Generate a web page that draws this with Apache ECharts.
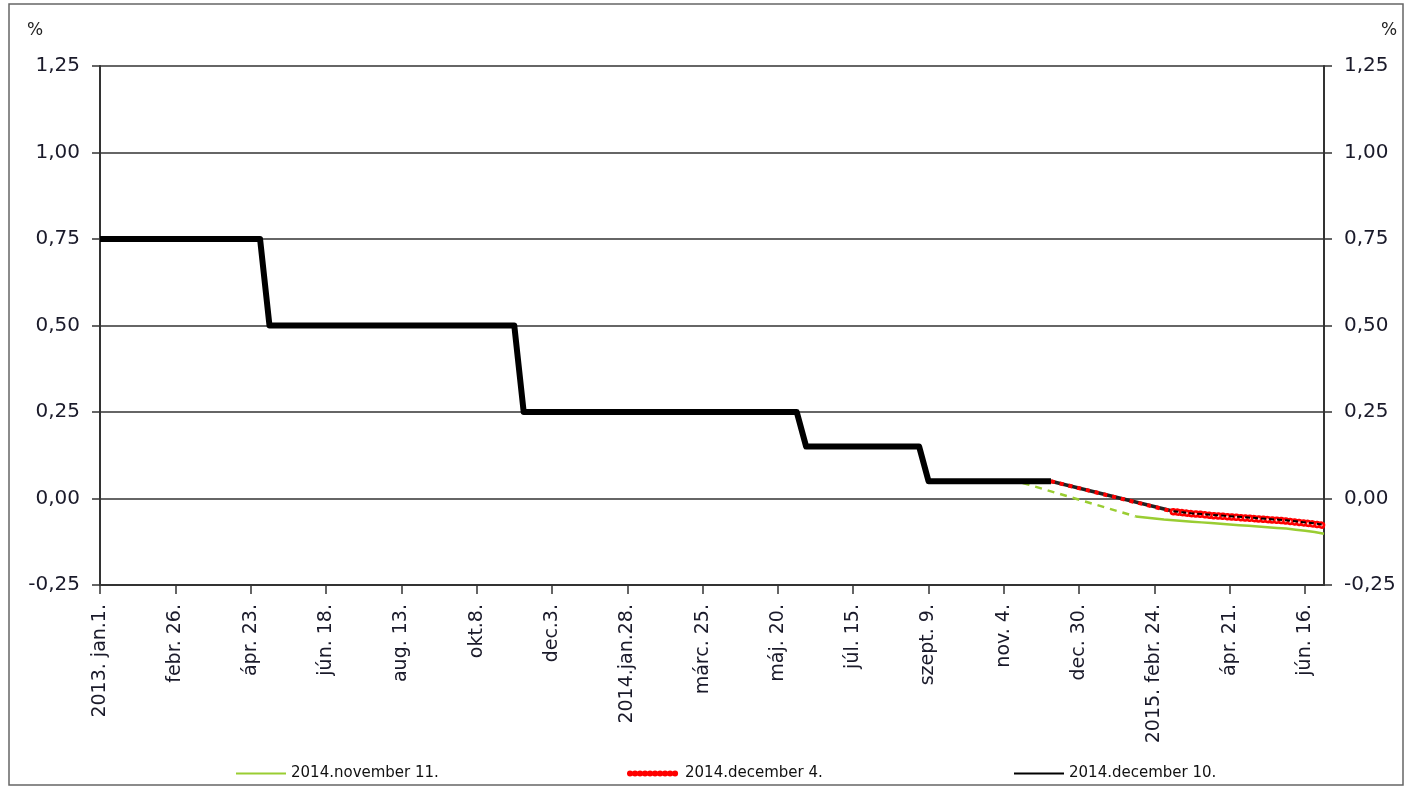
<!DOCTYPE html>
<html><head><meta charset="utf-8">
<script src="https://cdn.jsdelivr.net/npm/echarts@6/dist/echarts.min.js"></script>
<style>html,body{margin:0;padding:0;background:#fff}#c{width:1408px;height:787px}</style>
</head><body><div id="c"></div>
<script>
// ---- data ----
const tickLabels = ["2013. jan.1.", "febr. 26.", "ápr. 23.", "jún. 18.", "aug. 13.", "okt.8.", "dec.3.",
  "2014.jan.28.", "márc. 25.", "máj. 20.", "júl. 15.", "szept. 9.", "nov. 4.", "dec. 30.",
  "2015. febr. 24.", "ápr. 21.", "jún. 16."];
const firstWeek = "2013-01-01";
const weekCount = 131;               // weekly categories, 2013-01-01 .. 2015-06-30
const tickEvery = 8;                 // a tick label every 8 weeks

// realised policy rate (%): level and number of weeks it was held
const historyLevels = [0.75, 0.50, 0.25, 0.15, 0.05];
const historyWeeks  = [18, 27, 30, 13, 14];

// 2014.november 11. expectation
const nov11BridgeWeeks  = [98, 110];
const nov11BridgeValues = [0.045, -0.052];
const nov11CurveStart = 110;
const nov11Curve = [-0.052, -0.055, -0.058, -0.061, -0.063, -0.065, -0.067, -0.069, -0.071, -0.073,
  -0.075, -0.077, -0.079, -0.081, -0.083, -0.085, -0.087, -0.090, -0.093, -0.097, -0.102];

// 2014.december 4. expectation
const dec4BridgeWeeks  = [101, 114];
const dec4BridgeValues = [0.05, -0.038];
const dec4CurveStart = 114;
const dec4Curve = [-0.038, -0.041, -0.044, -0.046, -0.049, -0.051, -0.053, -0.055, -0.057, -0.059,
  -0.061, -0.063, -0.065, -0.068, -0.071, -0.074, -0.078];

// 2014.december 10. expectation
const dec10BridgeWeeks  = [101, 114];
const dec10BridgeValues = [0.05, -0.037];
const dec10CurveStart = 114;
const dec10Curve = [-0.037, -0.040, -0.043, -0.045, -0.047, -0.049, -0.051, -0.053, -0.055, -0.057,
  -0.059, -0.061, -0.063, -0.066, -0.069, -0.072, -0.076];

const names = ["2014.november 11.", "2014.december 4.", "2014.december 10."];

// ---- build arrays for the library ----
const weeks = [];
{
  const d0 = new Date(firstWeek + "T00:00:00Z");
  for (let i = 0; i < weekCount; i++) {
    const d = new Date(d0.getTime() + i * 7 * 86400000);
    weeks.push(d.toISOString().slice(0, 10));
  }
}
function emptyRow() { return new Array(weekCount).fill(null); }
function fromRuns(levels, counts) {
  const r = emptyRow(); let k = 0;
  levels.forEach((v, j) => { for (let c = 0; c < counts[j]; c++) r[k++] = v; });
  return r;
}
function fromPoints(idx, vals) { const r = emptyRow(); idx.forEach((w, j) => r[w] = vals[j]); return r; }
function fromStart(start, vals) { const r = emptyRow(); vals.forEach((v, j) => r[start + j] = v); return r; }

const FONT = "DejaVu Sans";
const GREEN = "#9acd32", RED = "#ff0000", BLACK = "#000000";
const dotDash = [0.01, 4.5];
const fmt = v => v.toFixed(2).replace(".", ",").replace("-0,00", "0,00");

function yAxisCfg(pos) {
  return {
    type: "value", position: pos, min: -0.25, max: 1.25, interval: 0.25,
    axisLine: { show: true, lineStyle: { color: "#333", width: 2 } },
    axisTick: { show: true, inside: false, length: 8, lineStyle: { color: "#333", width: 1.5 } },
    axisLabel: { formatter: fmt, margin: 20, fontFamily: FONT, fontSize: 20, color: "#1a1a2a" },
    splitLine: { show: pos === "left", lineStyle: { color: "#333", width: 1.5 } }
  };
}

function legendAt(left, name, lineStyle) {
  return {
    left: left, top: 761, itemWidth: 50, itemHeight: 14, selectedMode: false,
    textStyle: { fontFamily: FONT, fontSize: 15, color: "#111" },
    data: [{ name: name, lineStyle: lineStyle, itemStyle: { opacity: 0 } }]
  };
}

const option = {
  animation: false,
  backgroundColor: "#fff",
  grid: { left: 100, right: 84, top: 66, bottom: 202, containLabel: false, outerBoundsMode: "none" },
  legend: [
    legendAt(230, names[0], { color: GREEN, width: 2, type: "solid" }),
    legendAt(622, names[1], { color: RED, width: 6, type: [0.01, 5], cap: "round" }),
    legendAt(1008, names[2], { color: BLACK, width: 2, type: "solid" })
  ],
  xAxis: {
    type: "category", data: weeks, boundaryGap: false,
    axisLine: { onZero: false, lineStyle: { color: "#333", width: 2 } },
    axisTick: { interval: tickEvery - 1, length: 9, lineStyle: { color: "#333", width: 1.5 } },
    axisLabel: {
      interval: tickEvery - 1, rotate: 90, margin: 19,
      formatter: (v, i) => (i % tickEvery === 0 ? (tickLabels[i / tickEvery] || "") : ""),
      fontFamily: FONT, fontSize: 19, color: "#1a1a2a"
    },
    splitLine: { show: false }
  },
  yAxis: [yAxisCfg("left"), yAxisCfg("right")],
  graphic: [
    { type: "rect", shape: { x: 9, y: 4, width: 1394, height: 781 }, style: { fill: "none", stroke: "#666", lineWidth: 1.5 }, silent: true },
    { type: "text", left: 27, top: 22, style: { text: "%", fontFamily: FONT, fontSize: 17, fill: "#222" } },
    { type: "text", left: 1381, top: 22, style: { text: "%", fontFamily: FONT, fontSize: 17, fill: "#222" } }
  ],
  series: [
    { name: names[0], type: "line", data: fromPoints(nov11BridgeWeeks, nov11BridgeValues), connectNulls: true,
      symbol: "none", lineStyle: { color: GREEN, width: 2.5, type: [7, 6] }, itemStyle: { color: GREEN } },
    { name: names[0], type: "line", data: fromStart(nov11CurveStart, nov11Curve),
      symbol: "none", lineStyle: { color: GREEN, width: 2.5 }, itemStyle: { color: GREEN } },
    { name: names[2], type: "line", data: fromPoints(dec10BridgeWeeks, dec10BridgeValues), connectNulls: true,
      symbol: "none", lineStyle: { color: "#222", width: 3.5 }, itemStyle: { color: BLACK } },
    { name: names[1], type: "line", data: fromPoints(dec4BridgeWeeks, dec4BridgeValues), connectNulls: true,
      symbol: "none", lineStyle: { color: RED, width: 4, type: [4, 5] }, itemStyle: { color: RED } },
    { name: names[1], type: "line", data: fromStart(dec4CurveStart, dec4Curve),
      symbol: "none", lineStyle: { color: RED, width: 7.5, type: dotDash, cap: "round" }, itemStyle: { color: RED } },
    { name: "ring", type: "line", data: fromStart(dec4CurveStart, dec4Curve), silent: true,
      symbol: "none", lineStyle: { color: "#ffc8c8", width: 2.5, type: dotDash, cap: "round" } },
    { name: names[2], type: "line", data: fromStart(dec10CurveStart, dec10Curve),
      symbol: "none", lineStyle: { color: BLACK, width: 2, type: [5, 3] }, itemStyle: { color: BLACK } },
    { name: names[2], type: "line", data: fromRuns(historyLevels, historyWeeks),
      symbol: "none", lineStyle: { color: BLACK, width: 6, join: "round" }, itemStyle: { color: BLACK } }
  ]
};
const chart = echarts.init(document.getElementById("c"), null, { renderer: "canvas" });
chart.setOption(option);
</script></body></html>
